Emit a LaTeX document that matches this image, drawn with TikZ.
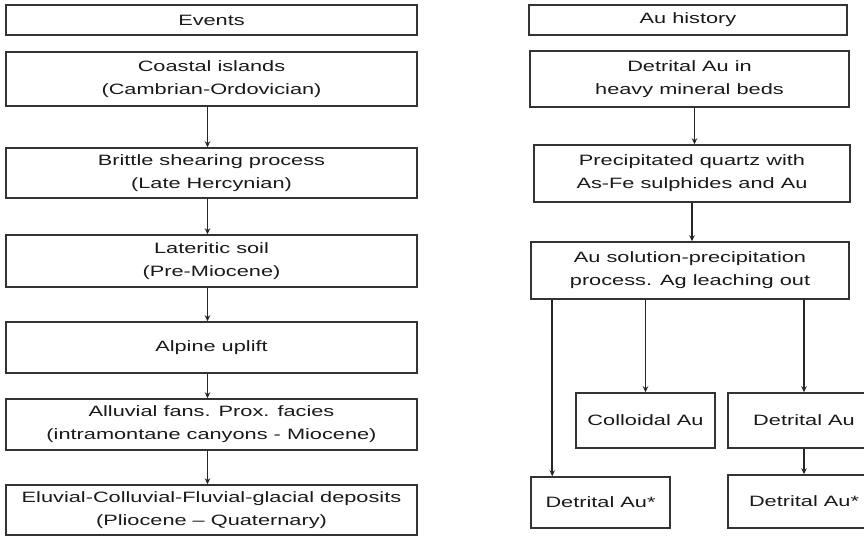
\documentclass[tikz,border=0pt]{standalone}
\usepackage{fontspec}
\setmainfont{Liberation Sans}[FakeStretch=1.45]
\usetikzlibrary{arrows.meta}
\tikzset{
  box/.style={draw=black!80, line width=1.5pt, text=black!90, align=center, inner sep=0pt, font=\fontsize{15}{23}\selectfont},
  arr/.style={draw=black!85, line width=1.6pt, -{Stealth[length=6pt,width=5.5pt]}}
}

\begin{document}
\begin{tikzpicture}[x=1pt,y=-1pt]
    \clip (0,0) rectangle (864,537);
    % events column
    \node[box, minimum width=411pt, minimum height=30pt] (ev) at (211.5,20) {Events};
    \def\evs{{Coastal islands\\(Cambrian-Ordovician)}/79/54, {Brittle shearing process\\(Late Hercynian)}/173/50, {Lateritic soil\\(Pre-Miocene)}/261/52, {Alpine uplift}/347.5/51, {Alluvial fans. Prox. facies\\(intramontane canyons - Miocene)}/424.5/51, {Eluvial-Colluvial-Fluvial-glacial deposits\\(Pliocene -- Quaternary)}/510/50}
    %         1              2             3              4            5              6
    \foreach \t/\y/\h [count=\i from 1] in \evs {\node[box, minimum width=411pt, minimum height=\h pt] (e\i) at (211.5,\y) {\t};}
    \foreach \i/\j in {1/2,2/3,3/4,4/5,5/6} {\draw[arr] ([xshift=-4pt]e\i.south) -- ([xshift=-4pt]e\j.north);}
    % Au column
    \node[box, minimum width=318pt, minimum height=30pt] (au) at (688,20) {Au history};
    \node[box, minimum width=319pt, minimum height=56pt] (r1) at (689.5,79) {Detrital Au in\\heavy mineral beds};
    \node[box, minimum width=316pt, minimum height=57pt] (r2) at (692,173.5) {Precipitated quartz with\\As-Fe sulphides and Au};
    \node[box, minimum width=318pt, minimum height=57pt] (r3) at (690,270.5) {Au solution-precipitation\\process. Ag leaching out};
    \node[box, minimum width=139pt, minimum height=55pt] (r4) at (645.5,420.5) {Colloidal Au};
    \node[box, minimum width=152pt, minimum height=55pt] (r5) at (804,420.5) {Detrital Au};
    \node[box, minimum width=139pt, minimum height=51pt] (r6) at (600.5,502.5) {Detrital Au*};
    \node[box, minimum width=152pt, minimum height=53pt] (r7) at (804,501.5) {Detrital Au*};
    \draw[arr] ([xshift=5pt]r1.south) -- ([xshift=5pt]r1.south |- r2.north);
    \draw[arr] (r2.south) -- (r2.south |- r3.north);
    \draw[arr] ([xshift=22pt]r6.north west |- r3.south) -- ([xshift=22pt]r6.north west);
    \draw[arr] (r4.north |- r3.south) -- (r4.north);
    \draw[arr] (r5.north |- r3.south) -- (r5.north);
    \draw[arr] (r5) -- (r7);
\end{tikzpicture}
\end{document}
